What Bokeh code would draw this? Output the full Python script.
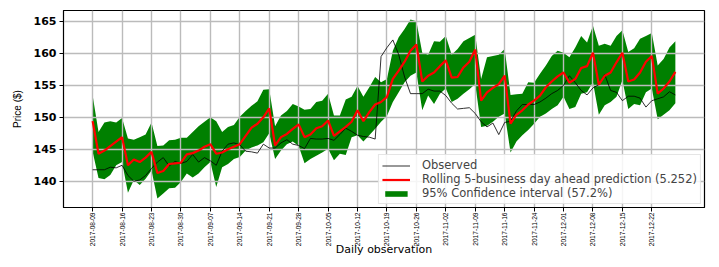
import math
from bokeh.plotting import figure
from bokeh.models import ColumnDataSource, FixedTicker, Range1d, Legend, LegendItem
from bokeh.embed import file_html
from bokeh.resources import INLINE

tick_labels = ["2017-08-09", "2017-08-16", "2017-08-23", "2017-08-30", "2017-09-07",
               "2017-09-14", "2017-09-21", "2017-09-28", "2017-10-05", "2017-10-12",
               "2017-10-19", "2017-10-26", "2017-11-02", "2017-11-09", "2017-11-16",
               "2017-11-24", "2017-12-01", "2017-12-08", "2017-12-15", "2017-12-22"]
tick_step = 5  # business days between labelled ticks

observed = [
    141.8, 141.8, 141.8, 142.2, 142.1, 142.5, 140.9, 140.0, 140.2, 140.9,
    142.0, 143.0, 143.7, 142.4, 143.1, 142.8, 143.1, 144.2, 143.0, 143.7,
    143.2, 142.5, 144.7, 145.8, 146.0, 145.7, 144.7, 144.6, 144.4, 145.8,
    145.2, 145.2, 146.0, 146.5, 145.8, 145.6, 145.1, 146.7, 146.6, 146.6,
    146.7, 146.4, 147.3, 148.3, 147.8, 147.2, 147.0, 146.9, 146.6, 159.5,
    160.9, 162.1, 159.8, 156.3, 153.7, 153.7, 153.7, 154.4, 154.1, 154.1,
    153.4, 152.2, 151.3, 151.4, 151.5, 150.6, 149.3, 148.5, 149.1, 147.3,
    149.2, 149.4, 151.0, 152.0, 152.0, 152.0, 152.4, 153.0, 153.7, 154.2,
    155.0, 156.5, 155.4, 154.2, 153.5, 154.6, 155.1, 156.7, 154.2, 153.9,
    152.6, 153.3, 153.3, 153.0, 151.6, 152.6, 152.9, 153.2, 154.0, 153.5]

prediction = [
    149.4, 144.3, 144.8, 145.5, 146.2, 146.9, 142.5, 143.4, 143.0, 143.7,
    144.6, 141.3, 141.6, 142.7, 142.8, 142.9, 144.2, 144.4, 144.8, 145.4,
    145.8, 144.3, 144.5, 145.0, 145.4, 145.8, 147.1, 148.4, 149.0, 150.0,
    151.4, 145.6, 146.9, 147.4, 148.2, 148.9, 146.9, 147.3, 148.3, 148.6,
    149.5, 147.1, 147.8, 148.5, 149.3, 151.1, 149.4, 150.8, 152.0, 152.4,
    153.2, 156.0, 157.3, 158.7, 160.4, 161.4, 155.6, 156.5, 157.0, 158.0,
    158.9, 156.2, 156.3, 157.8, 158.7, 160.6, 152.6, 153.9, 154.6, 155.2,
    156.5, 149.0, 150.4, 151.1, 152.0, 152.6, 153.4, 154.7, 155.6, 156.4,
    157.0, 155.4, 156.0, 157.7, 158.0, 160.1, 155.1, 156.5, 157.0, 158.6,
    160.1, 155.6, 155.9, 157.0, 158.7, 159.6, 153.7, 154.5, 155.6, 157.1]

upper = [
    153.4, 147.7, 149.2, 149.4, 149.2, 149.9, 146.7, 146.5, 146.9, 147.3,
    149.2, 145.5, 145.6, 146.4, 146.5, 146.8, 146.8, 147.7, 148.6, 149.3,
    150.0, 149.4, 147.7, 148.5, 148.8, 150.1, 151.0, 151.8, 152.5, 154.3,
    154.4, 148.6, 150.3, 151.0, 152.1, 151.7, 151.2, 151.3, 152.4, 152.6,
    153.7, 150.3, 150.3, 152.8, 153.2, 154.9, 153.2, 154.7, 156.3, 155.5,
    156.0, 160.4, 162.5, 163.8, 165.3, 165.0, 160.1, 159.8, 161.9, 161.8,
    162.7, 159.8, 160.7, 161.9, 162.4, 162.9, 156.0, 159.4, 159.6, 159.8,
    160.7, 153.5, 153.6, 153.7, 155.5, 155.4, 156.8, 158.1, 159.6, 160.4,
    160.1, 159.4, 160.9, 162.7, 161.7, 164.3, 161.2, 161.5, 161.2, 162.7,
    163.6, 160.2, 160.8, 162.3, 162.7, 163.2, 158.1, 159.1, 160.9, 161.9]

lower = [
    144.6, 140.5, 140.3, 141.0, 142.5, 143.0, 138.2, 140.2, 139.4, 140.4,
    141.7, 137.3, 138.1, 138.9, 139.0, 139.9, 141.2, 140.6, 141.2, 142.2,
    143.0, 139.1, 142.2, 142.7, 143.5, 143.8, 144.8, 145.3, 145.6, 146.1,
    147.5, 143.5, 144.8, 145.8, 146.2, 145.5, 142.8, 143.5, 144.0, 144.5,
    145.1, 143.3, 144.3, 144.1, 146.9, 147.2, 146.2, 147.2, 148.2, 149.3,
    150.2, 152.4, 153.9, 155.5, 156.5, 157.0, 151.1, 153.4, 152.1, 153.7,
    154.5, 152.4, 152.9, 153.7, 154.4, 155.2, 148.5, 148.7, 149.3, 150.1,
    150.6, 144.5, 146.2, 147.2, 148.0, 149.0, 150.1, 150.6, 151.3, 151.9,
    153.2, 151.3, 151.6, 153.7, 153.9, 155.5, 150.4, 151.9, 152.4, 153.2,
    155.8, 151.3, 152.1, 151.9, 153.9, 154.5, 149.7, 150.4, 151.1, 152.2]

y_ticks = [140, 145, 150, 155, 160, 165]

n = len(observed)
src = ColumnDataSource(dict(x=list(range(n)), obs=observed, pred=prediction,
                            lo=lower, hi=upper))

xpad = 0.05 * (n - 1)
ymin = min(lower)
ymax = max(upper)
ypad = 0.05 * (ymax - ymin)

p = figure(width=707, height=259, output_backend="svg", toolbar_location=None,
           x_range=Range1d(-xpad, n - 1 + xpad),
           y_range=Range1d(ymin - ypad, ymax + ypad),
           min_border_left=63, min_border_right=3, min_border_top=10,
           min_border_bottom=30)

r_band = p.varea(x="x", y1="lo", y2="hi", source=src, fill_color="green",
                 level="image")
r_obs = p.line("x", "obs", source=src, line_color="black", line_width=0.9,
               line_alpha=0.9)
r_pred = p.line("x", "pred", source=src, line_color="red", line_width=2.2)

tick_pos = [i * tick_step for i in range(len(tick_labels))]
p.xaxis.ticker = FixedTicker(ticks=tick_pos)
p.xaxis.major_label_overrides = {pos: lab for pos, lab in zip(tick_pos, tick_labels)}
p.xaxis.major_label_orientation = math.pi / 2
p.yaxis.ticker = FixedTicker(ticks=y_ticks)

for ax in (p.xaxis[0], p.yaxis[0]):
    ax.axis_line_color = "black"
    ax.major_tick_line_color = "black"
    ax.major_tick_out = 4
    ax.major_tick_in = 0
    ax.minor_tick_line_color = None
    ax.major_label_text_color = "black"
    ax.axis_label_text_color = "black"
    ax.axis_label_text_font_style = "normal"

p.xaxis.major_label_text_font = "Liberation Sans"
p.xaxis.major_label_text_font_size = "6.6px"
p.xaxis.major_label_standoff = 1
p.xaxis.axis_label = "Daily observation"
p.xaxis.axis_label_text_font = "DejaVu Sans"
p.xaxis.axis_label_text_font_size = "11px"
p.xaxis.axis_label_standoff = -6

p.yaxis.major_label_text_font = "DejaVu Sans"
p.yaxis.major_label_text_font_size = "11px"
p.yaxis.major_label_text_font_style = "bold"
p.yaxis.major_label_standoff = 3
p.yaxis.axis_label = "Price ($)"
p.yaxis.axis_label_text_font = "Liberation Sans"
p.yaxis.axis_label_text_font_size = "10px"
p.yaxis.axis_label_standoff = 8

p.grid.grid_line_color = "#bbbbbb"
p.grid.grid_line_width = 1.4

p.outline_line_color = "black"
p.outline_line_width = 1.2
p.background_fill_color = "white"
p.border_fill_color = "white"

legend = Legend(items=[
    LegendItem(label="Observed", renderers=[r_obs]),
    LegendItem(label="Rolling 5-business day ahead prediction (5.252)", renderers=[r_pred]),
    LegendItem(label="95% Confidence interval (57.2%)", renderers=[r_band]),
], location="bottom_right")
legend.label_text_font = "DejaVu Sans"
legend.label_text_font_size = "11.5px"
legend.label_height = 8
legend.glyph_height = 7
legend.glyph_width = 28
legend.label_standoff = 12
legend.spacing = -5
legend.padding = 3
legend.margin = 3
legend.border_line_color = "#cccccc"
legend.background_fill_alpha = 0.85
p.add_layout(legend)

open("out.html", "w").write(file_html(p, INLINE))
